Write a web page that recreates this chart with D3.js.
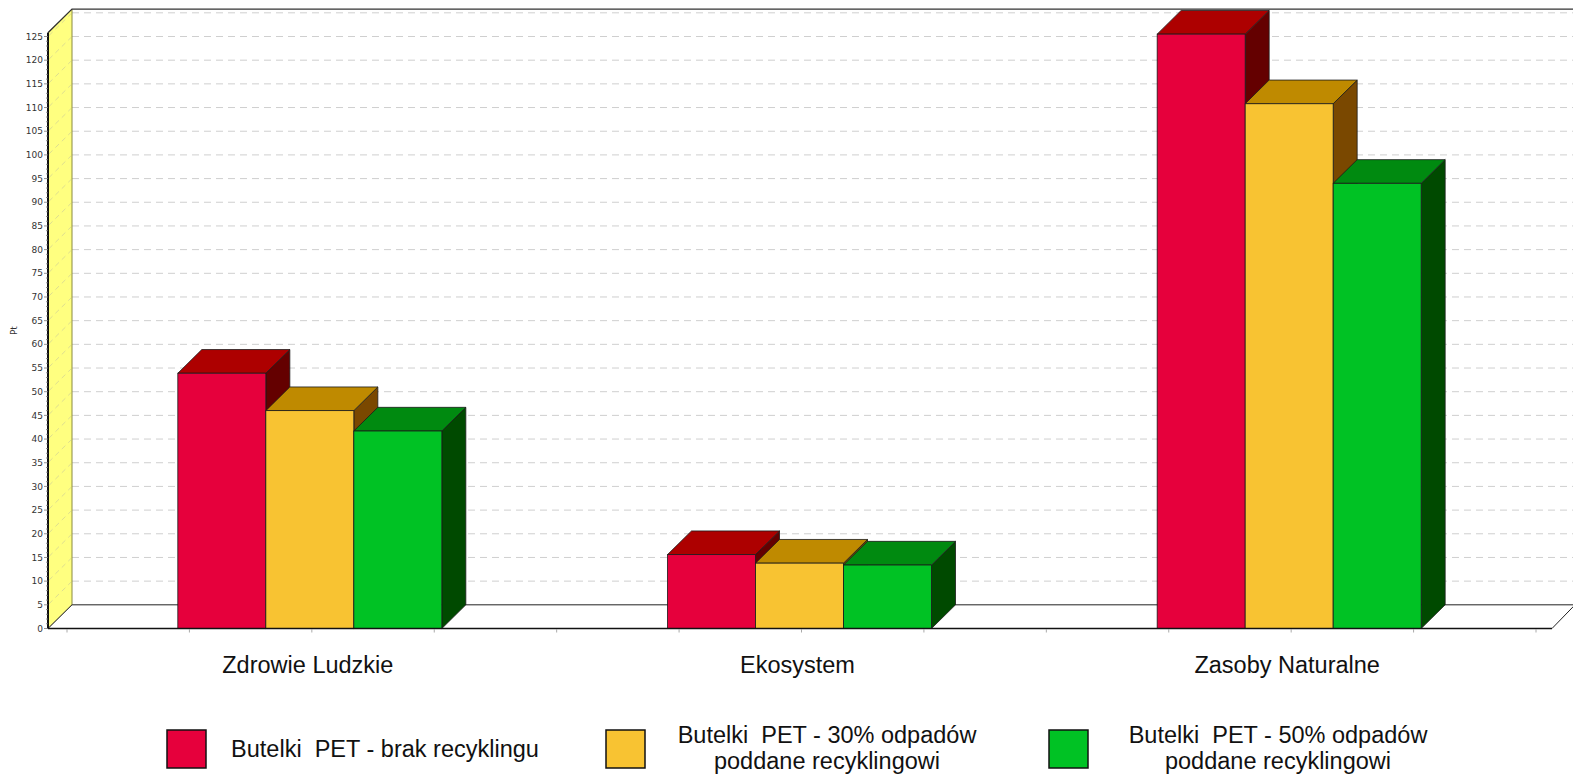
<!DOCTYPE html>
<html>
<head>
<meta charset="utf-8">
<script src="https://cdn.jsdelivr.net/npm/d3@7"></script>
<style>
  html, body { margin: 0; padding: 0; background: #fff; }
  svg { display: block; }
</style>
</head>
<body>
<svg id="chart" width="1573" height="775"></svg>
<script>
// ---- data ----
const categories = ["Zdrowie Ludzkie", "Ekosystem", "Zasoby Naturalne"];
const seriesNames = [
  ["Butelki  PET - brak recyklingu"],
  ["Butelki  PET - 30% odpadów", "poddane recyklingowi"],
  ["Butelki  PET - 50% odpadów", "poddane recyklingowi"]
];
const seriesNoRecycling = [53.9, 15.6, 125.5];
const series30 = [46.0, 13.8, 110.8];
const series50 = [41.7, 13.4, 94.0];
const yTicks = d3.range(0, 126, 5);
const yMax = 125.8;

// ---- styles ----
const frontColors = ["#e6003c", "#f8c332", "#00c224"];
const topColors = ["#ad0000", "#bf8a00", "#008a10"];
const sideColors = ["#640000", "#7a4800", "#004a00"];

const svg = d3.select("#chart");
const font = "'Liberation Sans', Arial, sans-serif";

const x0 = 48, xEnd = 1552, baseY = 628.5;
const y = d3.scaleLinear().domain([0, yMax]).range([baseY, baseY - yMax * 4.736]);
const DX = 24, DY = y(0) - y(5); // depth equals 5 units

const x = d3.scaleBand().domain(categories).range([65, 1534]).paddingInner(0).paddingOuter(0);
const barW = 88;
const xs = d3.scaleBand().domain([0, 1, 2]).range([0, barW * 3]);

const data = [seriesNoRecycling, series30, series50];

// ---- back wall gridlines ----
const gGrid = svg.append("g");
yTicks.forEach(v => {
  if (v === 0) return;
  gGrid.append("line")
    .attr("x1", x0 + DX).attr("x2", 1573)
    .attr("y1", y(v) - DY).attr("y2", y(v) - DY)
    .attr("stroke", "#cfcfcf").attr("stroke-width", 1)
    .attr("stroke-dasharray", "7,5");
});

// ---- left side wall (yellow) ----
svg.append("path")
  .attr("d", `M${x0},${y(0)} L${x0 + DX},${y(0) - DY} L${x0 + DX},${y(yMax) - DY} L${x0},${y(yMax)} Z`)
  .attr("fill", "#ffff80").attr("stroke", "#8a8a40").attr("stroke-width", 1);
yTicks.forEach(v => {
  if (v === 0) return;
  svg.append("line")
    .attr("x1", x0 + 1).attr("y1", y(v) - 1)
    .attr("x2", x0 + DX - 1).attr("y2", y(v) - DY + 1)
    .attr("stroke", "#dede90").attr("stroke-width", 1)
    .attr("stroke-dasharray", "5,4");
});

// ---- floor ----
svg.append("path")
  .attr("d", `M${x0},${y(0)} L${x0 + DX},${y(0) - DY} L${1573 + 2},${y(0) - DY} L${xEnd},${y(0)} Z`)
  .attr("fill", "#fff").attr("stroke", "#222").attr("stroke-width", 1);

// ---- top frame ----
svg.append("path")
  .attr("d", `M${x0},${y(yMax)} L${x0 + DX},${y(yMax) - DY} L1575,${y(yMax) - DY}`)
  .attr("fill", "none").attr("stroke", "#333").attr("stroke-width", 1.3);

// ---- x ticks ----
const xTickPos = d3.range(0, 13).map(i => 65 + i * (1534 - 65) / 12);
svg.append("g").selectAll("line").data(xTickPos).join("line")
  .attr("x1", d => d + 2).attr("x2", d => d + 2)
  .attr("y1", baseY + 1).attr("y2", baseY + 4)
  .attr("stroke", "#aaa");

// ---- bars ----
const gBars = svg.append("g");
categories.forEach((c, ci) => {
  const gx = x(c) + x.bandwidth() / 2 - barW * 3 / 2;
  data.forEach((s, si) => {
    const v = s[ci];
    const bx = gx + xs(si);
    const yt = y(v), yb = y(0);
    // side
    gBars.append("path")
      .attr("d", `M${bx + barW},${yt} L${bx + barW + DX},${yt - DY} L${bx + barW + DX},${yb - DY} L${bx + barW},${yb} Z`)
      .attr("fill", sideColors[si]).attr("stroke", "#1a1a1a").attr("stroke-width", 0.8);
    // top
    gBars.append("path")
      .attr("d", `M${bx},${yt} L${bx + DX},${yt - DY} L${bx + barW + DX},${yt - DY} L${bx + barW},${yt} Z`)
      .attr("fill", topColors[si]).attr("stroke", "#1a1a1a").attr("stroke-width", 0.8);
    // front
    gBars.append("rect")
      .attr("x", bx).attr("y", yt).attr("width", barW).attr("height", yb - yt)
      .attr("fill", frontColors[si]).attr("stroke", "#1a1a1a").attr("stroke-width", 0.8);
  });
});

// front baseline
svg.append("line").attr("x1", x0).attr("x2", xEnd).attr("y1", baseY).attr("y2", baseY)
  .attr("stroke", "#111").attr("stroke-width", 1.6);

// ---- y axis ----
svg.append("line").attr("x1", x0).attr("x2", x0).attr("y1", y(0)).attr("y2", y(yMax))
  .attr("stroke", "#111").attr("stroke-width", 2);
const gAxis = svg.append("g");
d3.range(0, 126, 1).forEach(v => {
  const major = v % 5 === 0;
  gAxis.append("line")
    .attr("x1", x0 - (major ? 4 : 2)).attr("x2", x0)
    .attr("y1", y(v)).attr("y2", y(v))
    .attr("stroke", "#777").attr("stroke-width", 0.8);
});
gAxis.selectAll("text").data(yTicks).join("text")
  .attr("x", x0 - 5).attr("y", d => y(d))
  .attr("dy", "0.35em").attr("text-anchor", "end")
  .attr("font-family", "'DejaVu Sans', Verdana, sans-serif").attr("font-size", 9)
  .attr("fill", "#333").text(d => d);

svg.append("text")
  .attr("transform", `translate(17,${(y(0) + y(yMax)) / 2}) rotate(-90)`)
  .attr("text-anchor", "middle")
  .attr("font-family", "'DejaVu Sans', Verdana, sans-serif").attr("font-size", 9)
  .attr("fill", "#333").text("Pt");

// ---- category labels ----
svg.append("g").selectAll("text").data(categories).join("text")
  .attr("x", d => x(d) + x.bandwidth() / 2 - 2)
  .attr("y", 673)
  .attr("text-anchor", "middle")
  .attr("font-family", font).attr("font-size", 23.5)
  .attr("fill", "#111").text(d => d);

// ---- legend ----
const legendSquares = [167, 606, 1049];
const legendText = [385, 827, 1278];
const gLeg = svg.append("g");
seriesNames.forEach((lines, i) => {
  gLeg.append("rect")
    .attr("x", legendSquares[i]).attr("y", 730).attr("width", 39).attr("height", 38)
    .attr("fill", frontColors[i]).attr("stroke", "#111").attr("stroke-width", 1.5);
  const t = gLeg.append("text")
    .attr("text-anchor", "middle")
    .attr("font-family", font).attr("font-size", 23.5).attr("fill", "#111")
    .attr("xml:space", "preserve");
  if (lines.length === 1) {
    t.append("tspan").attr("x", legendText[i]).attr("y", 757).text(lines[0]);
  } else {
    t.append("tspan").attr("x", legendText[i]).attr("y", 743).text(lines[0]);
    t.append("tspan").attr("x", legendText[i]).attr("y", 769).text(lines[1]);
  }
});
</script>
</body>
</html>
